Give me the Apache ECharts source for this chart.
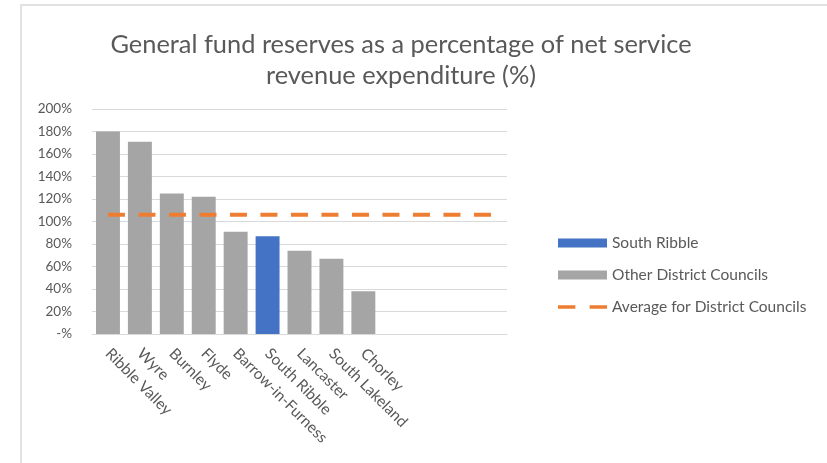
<!DOCTYPE html>
<html>
<head>
<meta charset="utf-8">
<script src="https://cdn.jsdelivr.net/npm/echarts@6/dist/echarts.min.js"></script>
<style>
  html, body { margin: 0; padding: 0; background: #fff; }
  #wrap { position: relative; width: 827px; height: 463px; overflow: hidden; }
  #frame { position: absolute; left: 20px; top: 4px; width: 900px; height: 500px;
           border-left: 2px solid #e2e2e2; border-top: 2px solid #e2e2e2; }
  #chart { position: absolute; left: 0; top: 0; width: 827px; height: 463px; }
</style>
</head>
<body>
<div id="wrap">
  <div id="frame"></div>
  <div id="chart"></div>
</div>
<script>
const councils = ['Ribble Valley', 'Wyre', 'Burnley', 'Flyde', 'Barrow-in-Furness',
  'South Ribble', 'Lancaster', 'South Lakeland', 'Chorley', '', '', '', ''];
const southRibble = ['-', '-', '-', '-', '-', 87, '-', '-', '-', '-', '-', '-', '-'];
const otherCouncils = [180, 171, 125, 122, 91, '-', 74, 67, 38, '-', '-', '-', '-'];
const districtAverage = [106, 106, 106, 106, 106, 106, 106, 106, 106, 106, 106, 106, 106];

const FONT = 'Lato';
const GREY_TEXT = '#595959';
// two short dashes for the average legend key (tiny corner squares keep the box 9px tall)
const DASH_ICON = 'path://M0,0h0.1v0.1H0zM0,8.9h0.1v0.1H0zM0,2.75h17v3.5H0zM31,2.75h17v3.5H31z';

const chart = echarts.init(document.getElementById('chart'), null, { renderer: 'canvas' });

const option = {
  animation: false,
  textStyle: { fontFamily: FONT },
  title: {
    text: 'General fund reserves as a percentage of net service\nrevenue expenditure (%)',
    left: 401,
    top: 29,
    padding: 0,
    textAlign: 'center',
    textStyle: {
      fontFamily: FONT,
      fontSize: 25.4,
      fontWeight: 'normal',
      color: GREY_TEXT,
      lineHeight: 31
    }
  },
  grid: { left: 92, right: 320, top: 109, bottom: 129 },
  legend: {
    orient: 'vertical',
    left: 558,
    top: 235,
    padding: 0,
    itemWidth: 49,
    itemHeight: 9,
    itemGap: 16,
    itemStyle: { borderWidth: 0 },
    symbolKeepAspect: false,
    textStyle: { fontFamily: FONT, fontSize: 15.5, lineHeight: 16, color: GREY_TEXT },
    data: [
      { name: 'South Ribble', icon: 'rect' },
      { name: 'Other District Councils', icon: 'rect' },
      { name: 'Average for District Councils', icon: DASH_ICON }
    ]
  },
  xAxis: {
    type: 'category',
    data: councils,
    axisLine: { lineStyle: { color: '#d9d9d9', width: 1 } },
    axisTick: { show: false },
    axisLabel: {
      rotate: -45,
      interval: 0,
      margin: 17,
      fontSize: 15.5,
      color: GREY_TEXT,
      fontFamily: FONT
    }
  },
  yAxis: {
    type: 'value',
    min: 0,
    max: 200,
    interval: 20,
    axisLine: { show: false },
    axisTick: { show: false },
    splitLine: { lineStyle: { color: '#d9d9d9', width: 1 } },
    axisLabel: {
      margin: 20,
      fontSize: 13.5,
      color: GREY_TEXT,
      fontFamily: FONT,
      formatter: v => (v === 0 ? '-%' : v + '%')
    }
  },
  series: [
    {
      name: 'South Ribble',
      type: 'bar',
      stack: 'councils',
      barCategoryGap: '25%',
      data: southRibble,
      itemStyle: { color: '#4472C4' }
    },
    {
      name: 'Other District Councils',
      type: 'bar',
      stack: 'councils',
      barCategoryGap: '25%',
      data: otherCouncils,
      itemStyle: { color: '#A5A5A5' }
    },
    {
      name: 'Average for District Councils',
      type: 'line',
      data: districtAverage,
      symbol: 'none',
      color: '#ED7D31',
      itemStyle: { color: '#ED7D31' },
      lineStyle: { color: '#ED7D31', width: 4, type: [17, 13.5] },
      z: 5
    }
  ]
};

chart.setOption(option);
</script>
</body>
</html>
